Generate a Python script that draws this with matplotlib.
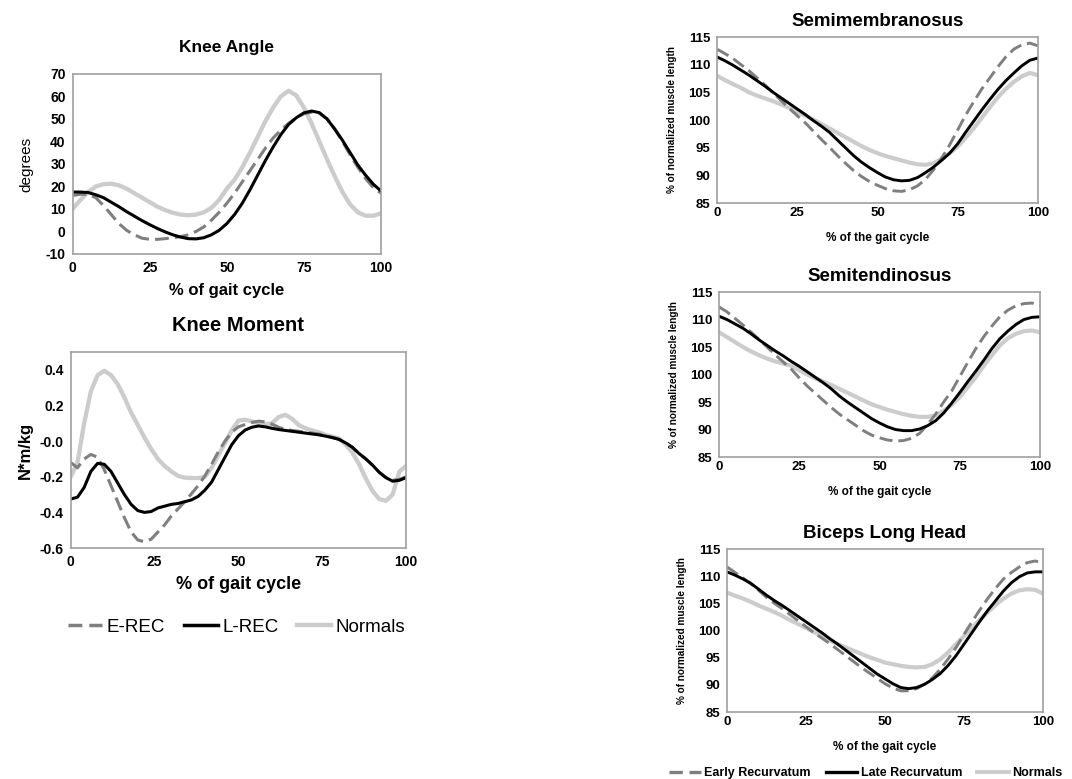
import matplotlib

matplotlib.use("Agg")
import matplotlib.pyplot as plt
import numpy as np
from matplotlib.lines import Line2D

plt.rcParams["font.family"] = ["Liberation Sans", "DejaVu Sans"]
plt.rcParams["axes.unicode_minus"] = False

# sampling grids (% of gait cycle)
PCT_25 = np.arange(0, 100.1, 2.5)
PCT_2 = np.arange(0, 100.1, 2.0)

# --- knee angle [deg], 2.5 % steps ---
angle_erec = [16, 16.5, 16.5, 15, 11.5, 7.5, 3.5, 0.5, -1.5, -3, -3.5, -3.5, -3.2, -2.8,
              -2.3, -1.5, 0, 2, 5, 8.5, 12.5, 17, 22, 27, 32, 37, 41.5, 45, 48, 50.5,
              52.3, 53, 52.5, 50, 45.5, 40, 34, 28.5, 23.5, 19.5, 17]
angle_lrec = [17.5, 17.5, 17.3, 16.3, 15, 13, 11, 8.8, 6.8, 4.8, 3, 1.3, -0.2, -1.5,
              -2.5, -3.2, -3.3, -2.8, -1.5, 0.5, 3.5, 7.5, 12.5, 18.5, 25, 31.5, 37.5,
              43, 47.5, 50.5, 52.7, 53.5, 52.8, 50, 45.5, 40.5, 35, 29.5, 25, 21, 18]
angle_norm = [10, 14, 17.5, 20, 21, 21.2, 20.5, 19, 17, 15, 13, 11, 9.5, 8.3, 7.5, 7.2,
              7.5, 8.5, 10.5, 14, 19, 23, 28.5, 35, 42, 49, 55, 60, 62.5, 60.5, 55, 48,
              40, 32, 24.5, 17.5, 12, 8.5, 7, 7, 8]

# --- knee moment [N*m/kg], 2 % steps ---
moment_erec = [-0.12, -0.15, -0.1, -0.075, -0.09, -0.16, -0.25, -0.34, -0.43, -0.51,
               -0.555, -0.565, -0.55, -0.51, -0.47, -0.42, -0.38, -0.34, -0.295, -0.25,
               -0.195, -0.13, -0.06, 0.0, 0.05, 0.08, 0.093, 0.105, 0.112, 0.108, 0.095,
               0.078, 0.065, 0.06, 0.055, 0.05, 0.045, 0.04, 0.03, 0.02, 0.01, -0.01,
               -0.035, -0.07, -0.1, -0.135, -0.175, -0.205, -0.22, -0.215, -0.2]
moment_lrec = [-0.325, -0.315, -0.26, -0.17, -0.125, -0.13, -0.17, -0.235, -0.3, -0.355,
               -0.39, -0.4, -0.395, -0.375, -0.365, -0.355, -0.35, -0.34, -0.33, -0.31,
               -0.275, -0.23, -0.16, -0.09, -0.02, 0.03, 0.062, 0.078, 0.085, 0.08,
               0.072, 0.065, 0.06, 0.055, 0.05, 0.045, 0.04, 0.035, 0.028, 0.02, 0.01,
               -0.01, -0.035, -0.07, -0.1, -0.135, -0.175, -0.205, -0.225, -0.22, -0.205]
moment_norm = [-0.2, -0.12, 0.1, 0.28, 0.37, 0.395, 0.37, 0.32, 0.245, 0.16, 0.09, 0.02,
               -0.045, -0.1, -0.14, -0.17, -0.195, -0.205, -0.207, -0.207, -0.2, -0.15,
               -0.08, -0.01, 0.06, 0.115, 0.12, 0.11, 0.1, 0.095, 0.1, 0.135, 0.148,
               0.125, 0.09, 0.072, 0.06, 0.05, 0.035, 0.025, 0.015, -0.02, -0.065, -0.13,
               -0.21, -0.28, -0.325, -0.335, -0.3, -0.17, -0.14]

# --- hamstring lengths [% of normalized muscle length], 2.5 % steps ---
smem_early = [112.8, 112.0, 111.1, 110.0, 108.9, 107.6, 106.3, 104.9, 103.5, 102.1, 100.8,
              99.5, 98.0, 96.5, 95.1, 93.6, 92.2, 90.9, 89.8, 88.9, 88.2, 87.6, 87.2, 87.1,
              87.4, 88.1, 89.3, 91.0, 93.1, 95.5, 98.2, 100.9, 103.3, 105.6, 107.6, 109.6,
              111.4, 112.8, 113.6, 113.9, 113.4]
smem_late = [111.4, 110.7, 109.9, 109.0, 108.1, 107.1, 106.1, 105.0, 104.0, 103.0, 102.0,
             101.0, 99.9, 98.9, 97.8, 96.4, 95.0, 93.6, 92.4, 91.4, 90.5, 89.7, 89.2, 89.0,
             89.1, 89.6, 90.5, 91.5, 92.7, 94.0, 95.7, 97.8, 99.8, 101.8, 103.7, 105.5,
             107.1, 108.5, 109.8, 110.8, 111.2]
smem_norm = [108.0, 107.2, 106.5, 105.8, 105.0, 104.4, 103.9, 103.4, 102.8, 102.2, 101.5,
             100.8, 100.1, 99.3, 98.5, 97.7, 96.9, 96.1, 95.3, 94.6, 94.0, 93.5, 93.1, 92.7,
             92.3, 92.0, 91.9, 92.2, 93.0, 94.0, 95.2, 96.8, 98.5, 100.4, 102.3, 104.1,
             105.6, 106.9, 107.9, 108.5, 108.1]

sten_early = [112.3, 111.4, 110.2, 109.0, 107.7, 106.4, 105.0, 103.6, 102.3, 101.0, 99.4,
              97.9, 96.6, 95.3, 94.0, 92.8, 91.8, 90.8, 89.8, 89.0, 88.5, 88.1, 87.9, 88.0,
              88.4, 89.3, 90.9, 92.8, 95.0, 97.0, 99.6, 102.2, 104.7, 106.9, 108.8, 110.5,
              111.7, 112.5, 112.9, 113.0, 112.6]
sten_late = [110.6, 110.0, 109.2, 108.4, 107.4, 106.3, 105.3, 104.3, 103.4, 102.4, 101.5,
             100.5, 99.5, 98.5, 97.4, 96.1, 95.0, 94.0, 93.0, 92.0, 91.2, 90.5, 90.0, 89.8,
             89.8, 90.1, 90.7, 91.6, 93.0, 94.8, 96.7, 98.7, 100.6, 102.6, 104.7, 106.5,
             107.9, 109.1, 110.0, 110.4, 110.5]
sten_norm = [107.7, 106.8, 105.9, 105.0, 104.2, 103.5, 102.9, 102.4, 102.0, 101.6, 100.8,
             100.0, 99.3, 98.7, 98.1, 97.4, 96.7, 96.0, 95.3, 94.6, 94.1, 93.6, 93.2, 92.8,
             92.5, 92.3, 92.3, 92.6, 93.4, 94.5, 95.9, 97.7, 99.5, 101.6, 103.5, 105.3,
             106.6, 107.4, 107.9, 108.0, 107.7]

blh_early = [111.7, 110.7, 109.7, 108.6, 107.4, 106.1, 105.0, 104.0, 102.9, 101.8, 100.7,
             99.6, 98.6, 97.6, 96.5, 95.4, 94.3, 93.2, 92.2, 91.2, 90.2, 89.4, 88.9, 88.9,
             89.3, 90.1, 91.3, 92.9, 94.8, 96.9, 99.3, 101.6, 103.8, 105.9, 107.8, 109.5,
             110.7, 111.7, 112.5, 112.8, 112.4]
blh_late = [110.8, 110.2, 109.5, 108.7, 107.6, 106.5, 105.5, 104.6, 103.6, 102.6, 101.6,
            100.6, 99.6, 98.5, 97.5, 96.4, 95.3, 94.2, 93.1, 92.0, 91.1, 90.2, 89.5, 89.3,
            89.5, 90.1, 91.0, 92.1, 93.6, 95.4, 97.5, 99.6, 101.7, 103.7, 105.5, 107.3,
            108.8, 109.9, 110.6, 110.8, 110.8]
blh_norm = [107.0, 106.4, 105.9, 105.3, 104.6, 104.0, 103.4, 102.7, 101.9, 101.2, 100.5,
            99.7, 99.0, 98.2, 97.5, 96.9, 96.3, 95.7, 95.1, 94.6, 94.1, 93.8, 93.5, 93.3,
            93.2, 93.3, 93.8, 94.7, 96.0, 97.5, 99.0, 100.5, 102.0, 103.4, 104.7, 105.9,
            106.8, 107.4, 107.6, 107.5, 106.8]

GAIT_TICKS = [0, 25, 50, 75, 100]
C_EARLY, C_LATE, C_NORM, C_FRAME = "#7f7f7f", "black", "#cccccc", "#a0a0a0"


def frame(ax, ylim, yticks, ytick_labels=None, size=10):
    ax.set_xlim(0, 100)
    ax.set_ylim(*ylim)
    ax.set_xticks(GAIT_TICKS)
    ax.set_yticks(yticks)
    if ytick_labels is not None:
        ax.set_yticklabels(ytick_labels)
    ax.tick_params(length=0, labelsize=size, pad=5)
    for lab in ax.get_xticklabels() + ax.get_yticklabels():
        lab.set_fontweight("bold")
    for s in ax.spines.values():
        s.set_color(C_FRAME)
        s.set_linewidth(1.2)


def draw(ax, x, early, late, norm, lw=2.2, dashes=(4.5, 2)):
    ax.plot(x, norm, color=C_NORM, lw=lw + 0.9, solid_capstyle="round")
    ax.plot(x, early, color=C_EARLY, lw=lw, dashes=dashes)
    ax.plot(x, late, color=C_LATE, lw=lw)


fig = plt.figure(figsize=(10.72, 7.79), dpi=100)

# knee angle
ax = fig.add_axes([0.0678, 0.674, 0.2876, 0.2311])
draw(ax, PCT_25, angle_erec, angle_lrec, angle_norm)
frame(ax, (-10, 70), range(-10, 71, 10))
ax.set_title("Knee Angle", fontsize=12.5, fontweight="bold", pad=16)
ax.set_xlabel("% of gait cycle", fontsize=12, fontweight="bold", labelpad=6)
ax.set_ylabel("degrees", fontsize=11, labelpad=9)

# knee moment
ax = fig.add_axes([0.066, 0.2965, 0.3128, 0.2516])
draw(ax, PCT_2, moment_erec, moment_lrec, moment_norm)
frame(ax, (-0.6, 0.5), [-0.6, -0.4, -0.2, 0.0, 0.2, 0.4],
      ["-0.6", "-0.4", "-0.2", "-0.0", "0.2", "0.4"])
ax.set_title("Knee Moment", fontsize=14.5, fontweight="bold", pad=15)
ax.set_xlabel("% of gait cycle", fontsize=13, fontweight="bold", labelpad=5)
ax.set_ylabel("N*m/kg", fontsize=12, fontweight="bold", labelpad=5)

knee_handles = [
    Line2D([], [], color=C_EARLY, lw=2.5, dashes=(4, 2)),
    Line2D([], [], color=C_LATE, lw=2.5),
    Line2D([], [], color=C_NORM, lw=3.2),
]
fig.legend(knee_handles, ["E-REC", "L-REC", "Normals"], loc="center",
           bbox_to_anchor=(237 / 1072, 1 - 627 / 779), ncol=3, frameon=False,
           fontsize=13.5, handlelength=1.8, columnspacing=1.0, handletextpad=0.25)

# hamstring panels
muscles = [
    ("Semimembranosus", [0.6688, 0.7394, 0.2994, 0.2131], smem_early, smem_late, smem_norm),
    ("Semitendinosus", [0.6707, 0.4133, 0.2994, 0.2118], sten_early, sten_late, sten_norm),
    ("Biceps Long Head", [0.6782, 0.0860, 0.2948, 0.2092], blh_early, blh_late, blh_norm),
]
for name, rect, early, late, norm in muscles:
    ax = fig.add_axes(rect)
    draw(ax, PCT_25, early, late, norm, lw=2.1, dashes=(4.5, 2))
    frame(ax, (85, 115), range(85, 116, 5), size=9.5)
    ax.tick_params(axis="x", pad=3)
    ax.set_title(name, fontsize=13.5, fontweight="bold", pad=8)
    ax.set_xlabel("% of the gait cycle", fontsize=8.5, fontweight="bold", labelpad=9)
    ax.set_ylabel("% of normalized muscle length", fontsize=7.2, fontweight="bold",
                  labelpad=8)

muscle_handles = [
    Line2D([], [], color=C_EARLY, lw=2.4, dashes=(4, 2)),
    Line2D([], [], color=C_LATE, lw=2.4),
    Line2D([], [], color=C_NORM, lw=2.8),
]
fig.legend(muscle_handles, ["Early Recurvatum", "Late Recurvatum", "Normals"], loc="center",
           bbox_to_anchor=(866 / 1072, 1 - 773 / 779), ncol=3, frameon=False,
           prop={"size": 9, "weight": "bold"}, handlelength=2.5, columnspacing=1.2,
           handletextpad=0.3, borderaxespad=0, borderpad=0.2)

fig.savefig("out.png", dpi=100)
